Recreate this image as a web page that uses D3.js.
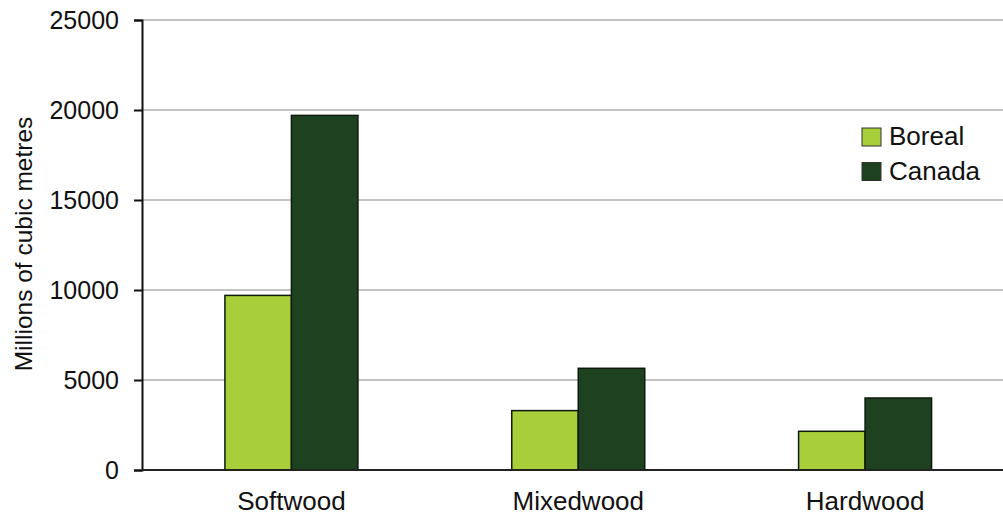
<!DOCTYPE html>
<html><head><meta charset="utf-8">
<script src="https://cdn.jsdelivr.net/npm/d3@7"></script>
<style>body{margin:0;background:#fff}svg{display:block}text{font-family:"Liberation Sans",Arial,sans-serif;fill:#111}</style>
</head><body><svg id="c" width="1003" height="518"></svg>
<script>
const categories = ["Softwood", "Mixedwood", "Hardwood"];
const seriesNames = ["Boreal", "Canada"];
const boreal = [9700, 3300, 2150];
const canada = [19700, 5650, 4000];
const yTicks = [0, 5000, 10000, 15000, 20000, 25000];
const colors = ["#a8cf3a", "#1e4220"];

const svg = d3.select("#c");
const y = d3.scaleLinear().domain([0, 25000]).range([470, 20]);
const x = d3.scaleBand().domain(categories).range([148, 1008.5]).paddingInner(0).paddingOuter(0);
const groupW = 133;
const xs = d3.scaleBand().domain(seriesNames).range([0, groupW]);

// gridlines
svg.append("g").selectAll("line").data(yTicks.slice(1)).join("line")
  .attr("x1", 142).attr("x2", 1003).attr("y1", d => y(d)).attr("y2", d => y(d))
  .attr("stroke", "#c3c3c3").attr("stroke-width", 2);

// y axis
const yAxis = d3.axisLeft(y).tickValues(yTicks).tickSize(8).tickPadding(15).tickFormat(d3.format("d"));
const ya = svg.append("g").attr("transform", "translate(142,0)").call(yAxis);
ya.attr("font-size", 25).attr("font-family", null);
ya.select(".domain").attr("stroke", "#111").attr("stroke-width", 2);
ya.selectAll(".tick line").attr("stroke", "#111").attr("stroke-width", 2);
ya.selectAll(".tick text").attr("font-size", 25).attr("fill", "#111");

// bars
const data = categories.map((c, i) => ({c, vals: [boreal[i], canada[i]]}));
const groups = svg.append("g").selectAll("g").data(data).join("g")
  .attr("transform", d => `translate(${x(d.c) + (x.bandwidth() - groupW) / 2},0)`);
groups.selectAll("rect").data(d => d.vals.map((v, j) => ({s: seriesNames[j], v, j}))).join("rect")
  .attr("x", d => xs(d.s)).attr("width", xs.bandwidth())
  .attr("y", d => y(d.v)).attr("height", d => y(0) - y(d.v))
  .attr("fill", d => colors[d.j]).attr("stroke", "#0d1a0d").attr("stroke-width", 1.5);

// x axis
const xAxis = d3.axisBottom(x).tickSize(0).tickPadding(22);
const xa = svg.append("g").attr("transform", "translate(0,470)").call(xAxis);
xa.attr("font-size", 26).attr("font-family", null);
xa.select(".domain").remove();
svg.append("line").attr("x1", 142).attr("x2", 1003).attr("y1", 470).attr("y2", 470).attr("stroke", "#222").attr("stroke-width", 2);
xa.selectAll(".tick text").attr("font-size", 26).attr("fill", "#111");

// y title
svg.append("text").attr("transform", "translate(32,244) rotate(-90)").attr("text-anchor", "middle")
  .attr("font-size", 24.5).text("Millions of cubic metres");

// legend
const lg = svg.append("g").attr("transform", "translate(862,128)");
seriesNames.forEach((s, i) => {
  lg.append("rect").attr("x", 0).attr("y", i * 34.5).attr("width", 19).attr("height", 18)
    .attr("fill", colors[i]).attr("stroke", "#333").attr("stroke-width", 1);
  lg.append("text").attr("x", 27).attr("y", i * 34.5 + 17).attr("font-size", 26).text(s);
});
</script></body></html>
